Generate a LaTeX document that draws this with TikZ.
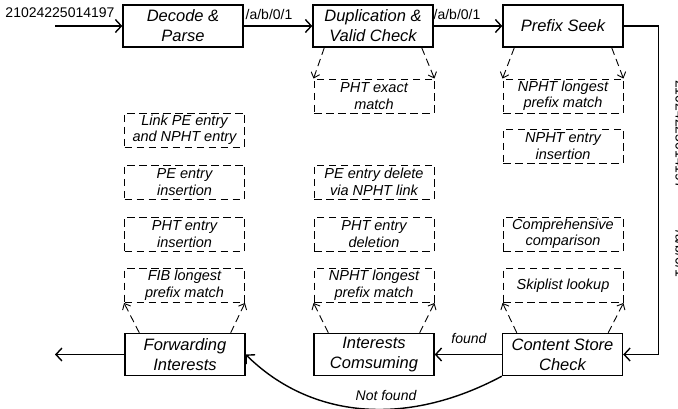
\documentclass[tikz,border=0pt]{standalone}
\usepackage{fontspec}
\setmainfont{Liberation Sans}
\usetikzlibrary{arrows.meta}
\begin{document}
\begin{tikzpicture}[x=1pt,y=-1pt,
  stage/.style={draw, line width=1.4pt, minimum width=120pt, minimum height=42pt,
    inner sep=0pt, align=center, font=\fontsize{16.5}{20}\selectfont\itshape},
  task/.style={draw, dash pattern=on 7.5pt off 4.5pt, line width=0.9pt,
    minimum width=120pt, minimum height=34pt, inner sep=0pt, align=center,
    font=\fontsize{14.5}{16.5}\selectfont\itshape},
  flow/.style={line width=1.4pt,
    -{Straight Barb[length=6pt,width=13pt,line width=1.4pt]}},
  sub/.style={line width=0.9pt, dash pattern=on 7.5pt off 4.5pt,
    -{Straight Barb[length=5pt,width=9pt,line width=0.9pt]}},
  lbl/.style={font=\fontsize{14}{16}\selectfont, inner sep=0pt},
  ilbl/.style={font=\fontsize{14}{16}\selectfont\itshape, inner sep=0pt}
]
\useasboundingbox (0,0) rectangle (678,409);

% main pipeline stages
\node[stage] (decode) at (183,26) {Decode \&\\Parse};
\node[stage] (dup) at (373,26) {Duplication \&\\Valid Check};
\node[stage] (seek) at (563,26) {Prefix Seek};
\node[stage] (fwd) at (185,354.5) {Forwarding\\Interests};
\node[stage] (cons) at (374,354.5) {Interests\\Comsuming};
\node[stage] (cs) at (562.5,354.5) {Content Store\\Check};

% sub-operations
\node[task] (link) at (184.5,130) {Link PE entry\\and NPHT entry};
\node[task] (peins) at (184.5,182) {PE entry\\insertion};
\node[task] (phtins) at (184.5,234) {PHT entry\\insertion};
\node[task] (fib) at (184.5,285.5) {FIB longest\\prefix match};
\node[task] (phtexact) at (374,96) {PHT exact\\match};
\node[task] (pedel) at (374,182) {PE entry delete\\via NPHT link};
\node[task] (phtdel) at (374,234) {PHT entry\\deletion};
\node[task] (nphtlpm) at (374,285.5) {NPHT longest\\prefix match};
\node[task] (seeklpm) at (563,96) {NPHT longest\\prefix match};
\node[task] (nphtins) at (563,146) {NPHT entry\\insertion};
\node[task] (comp) at (563,234) {Comprehensive\\comparison};
\node[task] (skip) at (563,285.5) {Skiplist lookup};

% free ends
\coordinate (in) at (55,26);
\coordinate (out) at (55,354.5);

% main flow
\draw[flow] (in) -- (decode.west);
\draw[flow] (decode.east) -- (dup.west);
\draw[flow] (dup.east) -- (seek.west);
\draw[flow] (seek.east) -- ++(35,0) |- (cs.east);
\draw[flow] (cs.west) -- (cons.east);
\draw[flow] (cs.south west) .. controls (405,428) and (310,418) .. (fwd.east);
\draw[flow] (fwd.west) -- (out);

% links to sub-operations
\draw[sub] ([xshift=12pt]dup.south west) -- (phtexact.north west);
\draw[sub] ([xshift=-12pt]dup.south east) -- (phtexact.north east);
\draw[sub] ([xshift=12pt]seek.south west) -- (seeklpm.north west);
\draw[sub] ([xshift=-12pt]seek.south east) -- (seeklpm.north east);
\draw[sub] ([xshift=15pt]fwd.north west) -- (fib.south west);
\draw[sub] ([xshift=-15pt]fwd.north east) -- (fib.south east);
\draw[sub] ([xshift=15pt]cons.north west) -- (nphtlpm.south west);
\draw[sub] ([xshift=-15pt]cons.north east) -- (nphtlpm.south east);
\draw[sub] ([xshift=15pt]cs.north west) -- (skip.south west);
\draw[sub] ([xshift=-15pt]cs.north east) -- (skip.south east);

% labels
\node[lbl] (name) at (60,13) {21024225014197};
\node[lbl] (n1) at (269,14) {/a/b/0/1};
\node[lbl] (n2) at (457,14) {/a/b/0/1};
\node[ilbl] (found) at (469,338) {found};
\node[ilbl] (notfound) at (386,395) {Not found};
\node[lbl, rotate=-90, anchor=base west] (rv1) at (675.5,80) {21024225014197};
\node[lbl, rotate=-90, anchor=base west] (rv2) at (675.5,230) {/a/b/0/1};
\end{tikzpicture}
\end{document}
